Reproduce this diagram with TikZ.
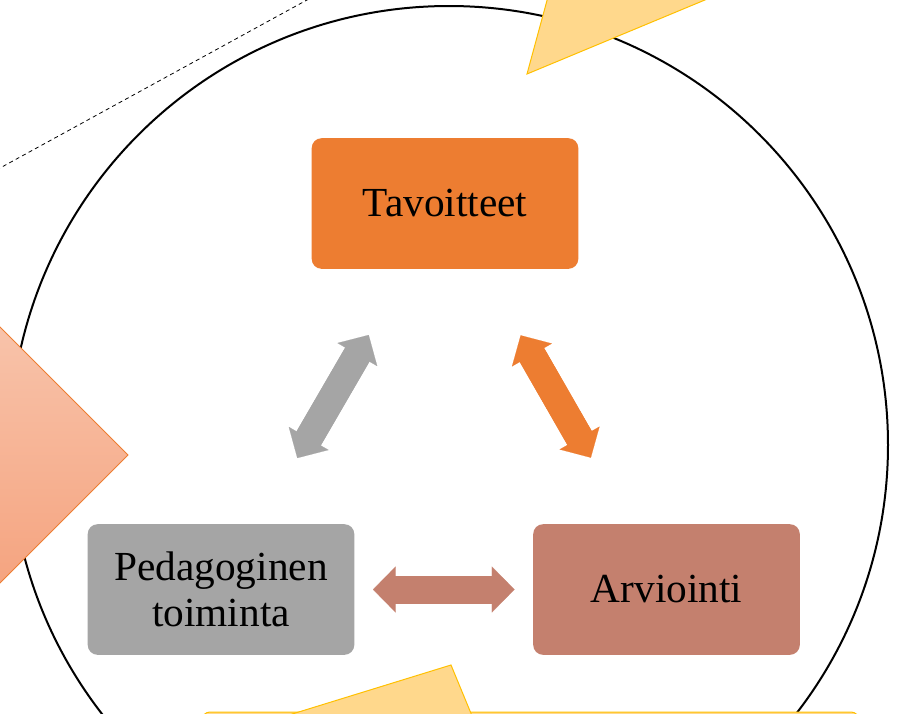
\documentclass[tikz,border=0pt]{standalone}
\usepackage{fontspec}
\setmainfont{Liberation Serif}
\usepackage{xcolor}
\usepackage{tikz}
\usetikzlibrary{arrows.meta}

\definecolor{tavorange}{HTML}{ED7D31}
\definecolor{pedgray}{HTML}{A5A5A5}
\definecolor{arvbrown}{HTML}{C4806E}
\definecolor{goldfill}{HTML}{FFD88C}
\definecolor{golddraw}{HTML}{FFC000}
\definecolor{diamtop}{HTML}{F8C3AA}
\definecolor{diambot}{HTML}{F5A480}

\begin{document}
\begin{tikzpicture}[x=0.75pt,y=-0.75pt,
	box/.style={rounded corners=7.5pt,minimum width=200pt,minimum height=98pt,
		text=black,align=center,font=\fontsize{31}{35}\selectfont},
	blockarrow/.style={line width=21pt,shorten <=116pt,shorten >=116pt,
		{Triangle[width=34.5pt,length=17pt,line width=0.1pt,sep=-2pt]}-{Triangle[width=34.5pt,length=17pt,line width=0.1pt,sep=-2pt]},
		postaction={draw,arrows=-,shorten <=128pt,shorten >=128pt}}]
		\useasboundingbox (0,0) rectangle (897,714);
		\clip (0,0) rectangle (897,714);
		% background shapes
		\draw[line width=1.5pt] (449,445) circle (439);
		\draw[line width=0.6pt,dash pattern=on 3pt off 2.5pt] (-10,173.5)--(317,-5.5);
		\shadedraw[top color=diamtop,bottom color=diambot,draw=tavorange,line width=0.6pt] (0,327)--(128,455)--(0,583)--(-128,455)--cycle;
		\filldraw[fill=goldfill,draw=golddraw,line width=0.75pt] (527,74)--(558,-40)--(801,-40)--cycle;
		\filldraw[fill=goldfill,draw=golddraw,line width=0.75pt,rounded corners=6pt] (202,712) rectangle (859,790);
		\filldraw[fill=goldfill,draw=golddraw,line width=0.75pt] (208,740)--(451,665)--(482,740)--cycle;
		% the three boxes
		\node[box,fill=tavorange] (tav) at (445,203.5) {Tavoitteet};
		\node[box,fill=pedgray] (ped) at (221,589.5) {Pedagoginen\\toiminta};
		\node[box,fill=arvbrown] (arv) at (666.5,589.5) {Arviointi};
		% arrows
		\draw[blockarrow,pedgray] (ped.center)--(tav.center);
		\draw[blockarrow,tavorange] (tav.center)--(arv.center);
		\draw[blockarrow,arvbrown] (ped.center)--(arv.center);
	\end{tikzpicture}
\end{document}
